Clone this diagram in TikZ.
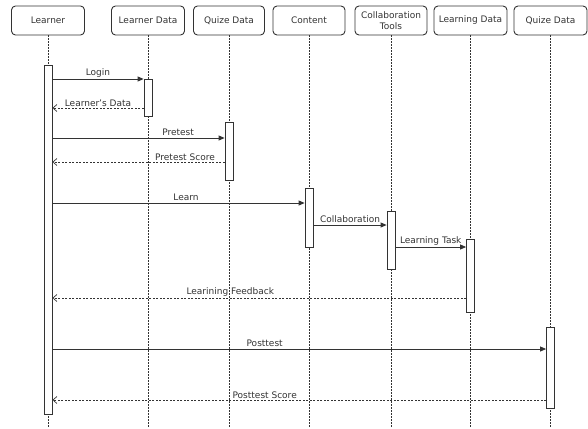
\documentclass[tikz,border=0pt]{standalone}
\usepackage{fontspec}
\setmainfont{DejaVu Sans}
\usetikzlibrary{arrows.meta, positioning}

\definecolor{ink}{HTML}{333333}

\tikzset{
  head/.style={draw=ink, line width=0.9pt, rounded corners=4pt, minimum width=73pt, minimum height=29pt,
    inner sep=0pt, align=center, text=ink, font=\fontsize{9}{11}\selectfont},
  life/.style={draw=ink, line width=0.7pt, dash pattern=on 1.5pt off 1.5pt},
  bar/.style={draw=ink, fill=white, line width=0.8pt, minimum width=8pt, inner sep=0pt, anchor=north},
  msg/.style={draw=ink, line width=0.8pt, -{Triangle[length=6pt,width=5pt]}},
  reply/.style={draw=ink, line width=0.7pt, dash pattern=on 2pt off 1.5pt,
    -{Straight Barb[length=4pt,width=7pt]}},
  lbl/.style={above, inner sep=1.5pt, text=ink, font=\fontsize{9}{11}\selectfont}
}

\begin{document}
\begin{tikzpicture}[x=1pt, y=-1pt]
  \useasboundingbox (0,0) rectangle (588,428);
  \coordinate (bot) at (0,428);

  % participants
  \node[head] (lrn) at (48,20.5) {Learner};
  \node[head] (lrndata) at (148,20.5) {Learner Data};
  \node[head, minimum width=71pt] (quiz) at (229,20.5) {Quize Data};
  \node[head, minimum width=72pt] (content) at (309,20.5) {Content};
  \node[head, minimum width=72pt] (collab) at (391,20.5) {Collaboration\\Tools};
  \node[head] (lrngdata) at (470.5,20.5) {Learning Data};
  \node[head] (quiz2) at (550.5,20.5) {Quize Data};

  % lifelines
  \foreach \p in {lrn,lrndata,quiz,content,collab,lrngdata,quiz2}
    \draw[life] (\p.south) -- (\p.south |- bot);

  % activations
  \node[bar, minimum height=349pt] (lrnbar) at (lrn.south |- 0,65) {};
  \node[bar, minimum height=37pt] (ldbar) at (lrndata.south |- 0,79) {};
  \node[bar, minimum height=58pt] (qdbar) at (quiz.south |- 0,122) {};
  \node[bar, minimum height=59pt] (cbar) at (content.south |- 0,188) {};
  \node[bar, minimum height=58pt] (ctbar) at (collab.south |- 0,211) {};
  \node[bar, minimum height=73pt] (lgbar) at (lrngdata.south |- 0,239) {};
  \node[bar, minimum height=81pt] (qd2bar) at (quiz2.south |- 0,327) {};

  % messages
  \draw[msg] (lrnbar.east |- ldbar.north) -- (ldbar.north west)
    node[lbl, pos=0.5] {Login};
  \draw[reply] (ldbar.west |- 0,108) -- (lrnbar.east |- 0,108)
    node[lbl, pos=0.5] {Learner's Data};
  \draw[msg] (lrnbar.east |- 0,138) -- (qdbar.west |- 0,138)
    node[lbl, pos=0.73] {Pretest};
  \draw[reply] (qdbar.west |- 0,162) -- (lrnbar.east |- 0,162)
    node[lbl, pos=0.23] {Pretest Score};
  \draw[msg] (lrnbar.east |- 0,203) -- (cbar.west |- 0,203)
    node[lbl, pos=0.53] {Learn};
  \draw[msg] (cbar.east |- 0,225) -- (ctbar.west |- 0,225)
    node[lbl, pos=0.5] {Collaboration};
  \draw[msg] (ctbar.east |- 0,247) -- (lgbar.west |- 0,247)
    node[lbl, pos=0.5] {Learning Task};
  \draw[reply] (lgbar.west |- 0,298) -- (lrnbar.east |- 0,298)
    node[lbl, pos=0.57] {Learining Feedback};
  \draw[msg] (lrnbar.east |- 0,349) -- (qd2bar.west |- 0,349)
    node[lbl, pos=0.43] {Posttest};
  \draw[reply] (qd2bar.west |- 0,400) -- (lrnbar.east |- 0,400)
    node[lbl, pos=0.57] {Posttest Score};
\end{tikzpicture}
\end{document}
